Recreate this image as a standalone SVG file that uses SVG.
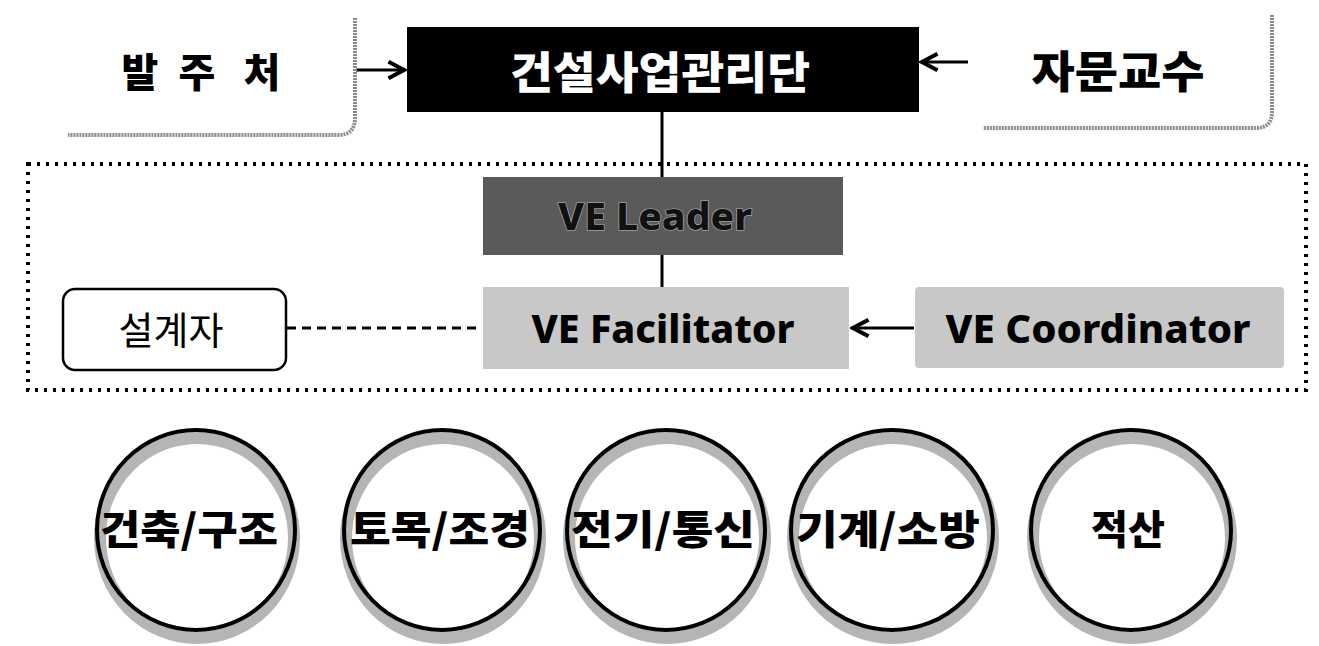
<svg xmlns="http://www.w3.org/2000/svg" width="1319" height="646" viewBox="0 0 1319 646">
<style>
.k{font-family:"Noto Sans CJK KR","Noto Sans",sans-serif;font-weight:900;text-anchor:middle}
.e{font-family:"Noto Sans","Open Sans",sans-serif;font-weight:800;text-anchor:middle}
.br{fill:none;stroke:#8a8a8a;stroke-width:4;stroke-dasharray:2 1}
.ring{fill:#fff;stroke:#b5b5b5;stroke-width:12}
.ringk{fill:none;stroke:#000;stroke-width:4}
.conn{fill:none;stroke:#000;stroke-width:3}
</style>
<defs>
<marker id="ah" viewBox="0 0 12 12" refX="11" refY="6" markerWidth="22" markerHeight="22" orient="auto" markerUnits="userSpaceOnUse">
<path d="M2 1.5 L10.5 6 L2 10.5" fill="none" stroke="#000" stroke-width="2.2"/>
</marker>
</defs>

<g id="container">
<rect x="28" y="164" width="1278" height="226" fill="none" stroke="#000" stroke-width="4" stroke-dasharray="3 6"/>
</g>

<g id="connectors">
<line class="conn" x1="356" y1="70" x2="405" y2="70" stroke-width="2.5" marker-end="url(#ah)"/>
<line class="conn" x1="968" y1="62" x2="921" y2="62" stroke-width="2.5" marker-end="url(#ah)"/>
<line class="conn" x1="662" y1="112" x2="662" y2="177"/>
<line class="conn" x1="662" y1="255" x2="662" y2="287"/>
<line class="conn" x1="287" y1="328" x2="482" y2="328" stroke-width="2.5" stroke-dasharray="9 6"/>
<line class="conn" x1="914" y1="328" x2="852" y2="328" stroke-width="3.5" marker-end="url(#ah)"/>
</g>

<g id="n-balju">
<path class="br" d="M355 18 L355 118 Q355 135 338 135 L68 135"/>
<text class="k" x="140 197 262" y="87" font-size="40">발주처</text>
</g>

<g id="n-cm">
<rect x="407" y="27" width="512" height="85" fill="#000"/>
<text class="k" x="660" y="89" font-size="44" fill="#fff" textLength="300" lengthAdjust="spacingAndGlyphs">건설사업관리단</text>
</g>

<g id="n-prof">
<path class="br" d="M1272 15 L1272 112 Q1272 128 1256 128 L983 128"/>
<text class="k" x="1118" y="88" font-size="44" textLength="173" lengthAdjust="spacingAndGlyphs">자문교수</text>
</g>

<g id="n-leader">
<rect x="483" y="177" width="360" height="78" fill="#5a5a5a"/>
<text class="e" x="655" y="230" font-size="38" fill="#111" stroke="#bbb" stroke-width="1.2" paint-order="stroke" textLength="194" lengthAdjust="spacingAndGlyphs">VE Leader</text>
</g>

<g id="n-facilitator">
<rect x="483" y="287" width="366" height="82" fill="#c8c8c8"/>
<text class="e" x="663" y="343" font-size="40" fill="#000" textLength="263" lengthAdjust="spacingAndGlyphs">VE Facilitator</text>
</g>

<g id="n-coordinator">
<rect x="915" y="287" width="369" height="81" rx="4" fill="#c8c8c8"/>
<text class="e" x="1098" y="343" font-size="40" fill="#000" textLength="305" lengthAdjust="spacingAndGlyphs">VE Coordinator</text>
</g>

<g id="n-designer">
<rect x="63" y="289" width="223" height="81" rx="12" fill="#fff" stroke="#000" stroke-width="2.5"/>
<text x="171" y="344" font-size="38" text-anchor="middle" font-family="Noto Sans CJK KR,sans-serif" font-weight="400">설계자</text>
</g>

<g id="c1">
<ellipse class="ring" cx="197" cy="538" rx="97" ry="100"/>
<ellipse class="ringk" cx="196" cy="530" rx="99" ry="100"/>
<text class="k" x="189" y="544" font-size="40" textLength="178" lengthAdjust="spacingAndGlyphs">건축/구조</text>
</g>
<g id="c2">
<ellipse class="ring" cx="443" cy="538" rx="97" ry="100"/>
<ellipse class="ringk" cx="442" cy="530" rx="98" ry="100"/>
<text class="k" x="440" y="544" font-size="40" textLength="180" lengthAdjust="spacingAndGlyphs">토목/조경</text>
</g>
<g id="c3">
<ellipse class="ring" cx="667" cy="538" rx="98" ry="100"/>
<ellipse class="ringk" cx="666" cy="530" rx="99" ry="100"/>
<text class="k" x="663" y="544" font-size="40" textLength="184" lengthAdjust="spacingAndGlyphs">전기/통신</text>
</g>
<g id="c4">
<ellipse class="ring" cx="893" cy="538" rx="100" ry="100"/>
<ellipse class="ringk" cx="892" cy="530" rx="101" ry="100"/>
<text class="k" x="888" y="544" font-size="40" textLength="184" lengthAdjust="spacingAndGlyphs">기계/소방</text>
</g>
<g id="c5">
<ellipse class="ring" cx="1132" cy="538" rx="99" ry="100"/>
<ellipse class="ringk" cx="1131" cy="530" rx="100" ry="100"/>
<text class="k" x="1128" y="544" font-size="40" textLength="74" lengthAdjust="spacingAndGlyphs">적산</text>
</g>
</svg>
